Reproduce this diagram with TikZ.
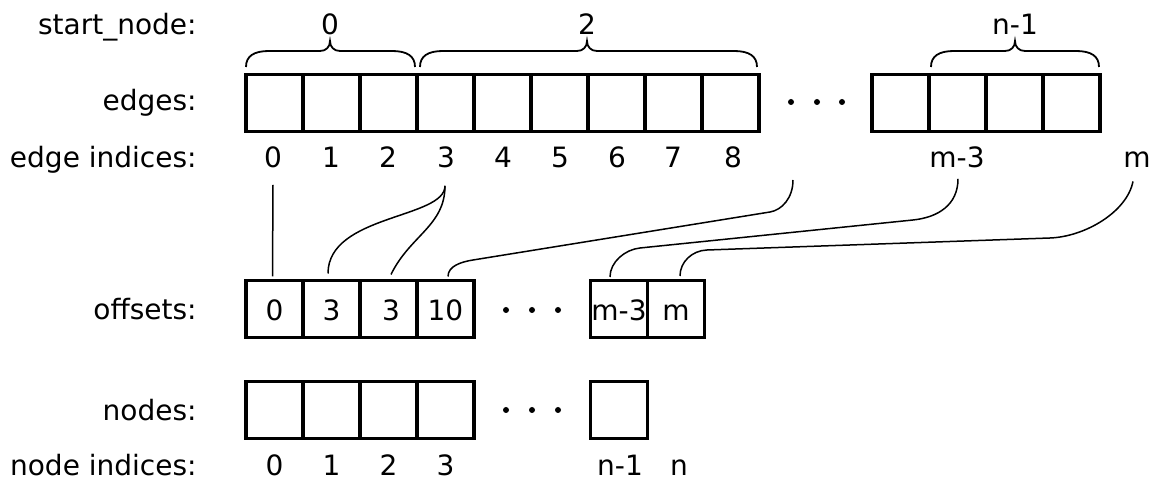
\documentclass[tikz,border=0pt]{standalone}
\usepackage{fontspec}
\setmainfont{DejaVu Sans}
\usetikzlibrary{calc}
\newcommand{\mybrace}[3]{\draw[brace] (#1,67) .. controls (#1,56) and ({#1+8},51) .. ({#1+23},51) -- ({#2-10},51) .. controls ({#2-4},51) and (#2,47) .. (#2,41) .. controls (#2,47) and ({#2+4},51) .. ({#2+10},51) -- ({#3-23},51) .. controls ({#3-8},51) and (#3,56) .. (#3,67);}
\begin{document}
\begin{tikzpicture}[x=0.5pt,y=-0.5pt,
  font=\fontsize{14pt}{17pt}\selectfont,
  cell/.style={draw,line width=1.6pt,minimum width=28.5pt,minimum height=28.5pt,inner sep=0pt,outer sep=0pt,text height=12pt,text depth=0pt},
  lbl/.style={anchor=base east,inner sep=0pt},
  idx/.style={anchor=base,inner sep=0pt},
  conn/.style={line width=0.75pt},
  brace/.style={line width=0.9pt}
]
\useasboundingbox (0,0) rectangle (1153,480);

% row labels
\node[lbl] (lstart) at (197,35) {start\_node:};
\node[lbl] (ledges) at (197,111) {edges:};
\node[lbl] (leidx) at (197,168) {edge indices:};
\node[lbl] (loff) at (197,320) {offsets:};
\node[lbl] (lnodes) at (197,421) {nodes:};
\node[lbl] (lnidx) at (197,476) {node indices:};

% edges array
\foreach \i in {0,...,8} \node[cell] (ea\i) at ({274.5+57*\i},103) {};
\foreach \i in {0,...,3} \node[cell] (eb\i) at ({900.5+57*\i},103) {};
\foreach \x in {791,817,842} \fill (\x,102) circle[radius=3];

% braces
\mybrace{246}{330}{415}
\mybrace{420}{587}{757}
\mybrace{931}{1015}{1099}
\node[idx] (s0) at (330,35) {0};
\node[idx] (s2) at (587,35) {2};
\node[idx] (sn) at (1015,35) {n-1};

% edge indices
\foreach \i/\x in {0/273,1/331,2/388,3/446,4/503,5/560,6/617,7/673,8/733}
  \node[idx] (e\i) at (\x,168) {\i};
\node[idx] (em3) at (957,168) {m-3};
\node[idx] (em) at (1137,168) {m};
\coordinate (e10) at (793,180);

% offsets array
\node[cell] (o0) at (274.5,309) {0};
\node[cell] (o1) at (331.5,309) {3};
\node[cell] (o2) at (388.5,309) {\hspace*{2.5pt}3};
\node[cell] (o3) at (445.5,309) {10};
\node[cell] (om3) at (619,309) {m-3};
\node[cell] (om) at (676,309) {m};
\foreach \x in {506,532,558} \fill (\x,310) circle[radius=3];

% nodes array
\foreach \i in {0,...,3} \node[cell] (n\i) at ({274.5+57*\i},410) {};
\node[cell] (nl) at (619,410) {};
\foreach \x in {506,532,558} \fill (\x,410) circle[radius=3];

% node indices
\foreach \i/\x in {0/274.5,1/331.5,2/388.5,3/445.5}
  \node[idx] (ni\i) at (\x,476) {\i};
\node[idx] (nin1) at (620,476) {n-1};
\node[idx] (nin) at (679,476) {n};

% connectors
\draw[conn] ($(e0.south)+(0,16)$) -- ($(o0.north)+(-2,-4)$);
\draw[conn] ($(e3.south)+(-1,17)$) .. controls +(0,33) and +(0,-59) .. ($(o1.north)+(-3.5,-7)$);
\draw[conn] ($(e3.south)+(-1,17)$) .. controls +(0,40) and +(19,-39) .. ($(o2.north)+(2.5,-6)$);
\draw[conn] (e10) .. controls (793,198) and (781.8,210.1) .. (770,212) -- (473,260)
  .. controls (461.2,261.9) and (448,266) .. ($(o3.north)+(2.5,-4)$);
\draw[conn] ($(em3.south)+(1,10)$) .. controls (958,205) and (937.9,217.4) .. (913,220) -- (640,248)
  .. controls (625,249.5) and (610,262) .. ($(om3.north)+(-9,-3.5)$);
\draw[conn] ($(em.south)+(-4,13)$) .. controls (1127,212) and (1085,236.7) .. (1050,238) -- (707,250)
  .. controls (692,250.5) and (680,262) .. ($(om.north)+(4,-4.5)$);
\end{tikzpicture}
\end{document}
